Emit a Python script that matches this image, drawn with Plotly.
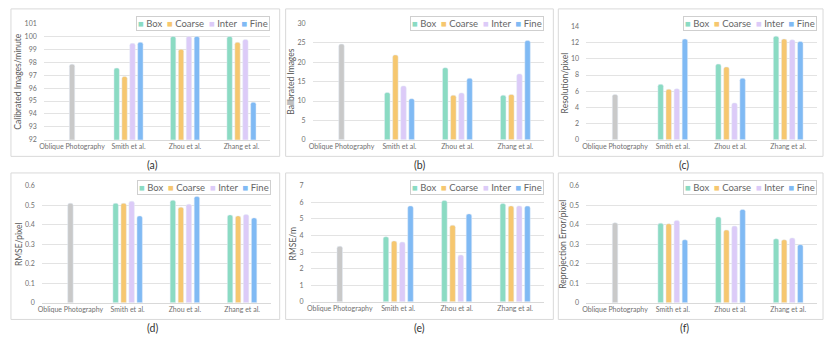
"""Six grouped bar panels: calibration metrics for four methods (Box/Coarse/Inter/Fine)."""

import plotly.graph_objects as go

W, H = 830, 341

CATEGORIES = ["Oblique Photography", "Smith et al.", "Zhou et al.", "Zhang et al."]
METHODS = ["Box", "Coarse", "Inter", "Fine"]
PANEL_LABELS = ["(a)", "(b)", "(c)", "(d)", "(e)", "(f)"]
Y_TITLES = [
    "Calibrated Images/minute", "Ballbrated Images", "Resolution/pixel",
    "RMSE/pixel", "RMSE/m", "Reprojection Error/pixel",
]
Y_RANGES = [(92, 101, 1), (0, 30, 5), (0, 14, 2), (0, 0.6, 0.1), (0, 7, 1), (0, 0.6, 0.1)]

# oblique photography baseline (one bar per panel)
OBLIQUE = [97.85, 24.7, 5.6, 0.51, 3.35, 0.41]

# per panel: rows = Smith, Zhou, Zhang ; cols = Box, Coarse, Inter, Fine
CALIB_PER_MIN = [[97.55, 96.9, 99.47, 99.55], [100.0, 99.0, 100.0, 100.0], [100.0, 99.55, 99.77, 94.9]]
CALIB_IMAGES = [[12.2, 21.9, 13.9, 10.6], [18.6, 11.5, 12.1, 15.9], [11.5, 11.7, 17.0, 25.6]]
RESOLUTION = [[6.85, 6.25, 6.3, 12.45], [9.35, 9.0, 4.55, 7.6], [12.8, 12.45, 12.35, 12.15]]
RMSE_PIXEL = [[0.51, 0.51, 0.52, 0.445], [0.525, 0.49, 0.505, 0.545], [0.45, 0.445, 0.452, 0.435]]
RMSE_M = [[3.92, 3.67, 3.6, 5.78], [6.1, 4.62, 2.82, 5.3], [5.92, 5.78, 5.78, 5.77]]
REPROJ = [[0.408, 0.405, 0.422, 0.323], [0.44, 0.373, 0.393, 0.478], [0.328, 0.323, 0.332, 0.298]]
PANEL_DATA = [CALIB_PER_MIN, CALIB_IMAGES, RESOLUTION, RMSE_PIXEL, RMSE_M, REPROJ]

COLORS = {"Box": "#8bdbc3", "Coarse": "#f6c76f", "Inter": "#dccbf8", "Fine": "#80baf4", "grey": "#c9c9c9"}
FONT = "Lato, 'Noto Sans', sans-serif"

# pixel geometry (left, right, top, bottom) of each panel frame and plot area
FRAMES = [(7, 277, 4, 155), (283, 552, 4, 155), (557, 823, 4, 155),
          (7, 277, 172, 322), (283, 552, 172, 322), (557, 823, 172, 322)]
PLOTS = [(40, 267, 19, 138), (310, 543, 19, 138), (585, 817, 22, 138),
         (38, 268, 185, 305), (308, 543, 185, 304), (585, 817, 185, 305)]
BAR_W = 0.095
OFFSETS = [-0.21, -0.07, 0.07, 0.21]


def px_x(v):
    return v / W


def px_y(v):
    return 1 - v / H


fig = go.Figure()
layout = {}
shapes, annotations = [], []

for i in range(6):
    n = "" if i == 0 else str(i + 1)
    xa, ya = f"x{n}", f"y{n}"
    fig.add_trace(go.Bar(
        x=[CATEGORIES[0]], y=[OBLIQUE[i]], width=BAR_W, offset=-BAR_W / 2,
        marker_color=COLORS["grey"], xaxis=xa, yaxis=ya, showlegend=False,
    ))
    data = PANEL_DATA[i]
    for m, method in enumerate(METHODS):
        fig.add_trace(go.Bar(
            x=CATEGORIES[1:], y=[row[m] for row in data], width=BAR_W,
            offset=OFFSETS[m] - BAR_W / 2, marker_color=COLORS[method],
            name=method, xaxis=xa, yaxis=ya, showlegend=False,
        ))

    l, r, t, b = PLOTS[i]
    lo, hi, step = Y_RANGES[i]
    layout[f"xaxis{n}"] = dict(
        domain=[px_x(l), px_x(r)], anchor=ya, type="category",
        categoryorder="array", categoryarray=CATEGORIES, range=[-0.5, 3.5],
        showgrid=False, showline=True, linecolor="#d9d9d9", linewidth=1,
        tickfont=dict(size=7, color="#707070"), ticks="", fixedrange=True,
    )
    layout[f"yaxis{n}"] = dict(
        domain=[px_y(b), px_y(t)], anchor=xa, range=[lo, hi], dtick=step, tick0=lo,
        showgrid=True, gridcolor="#e3e3e3", gridwidth=1, zeroline=False,
        tickfont=dict(size=7, color="#707070"), ticklabelstandoff=6,
        title=dict(text=Y_TITLES[i], font=dict(size=8.5, color="#595959"), standoff=1),
        fixedrange=True,
    )

    fl, fr, ft, fb = FRAMES[i]
    shapes.append(dict(type="rect", xref="paper", yref="paper",
                       x0=px_x(fl), x1=px_x(fr), y0=px_y(fb), y1=px_y(ft),
                       line=dict(color="#d9d9d9", width=1), fillcolor="rgba(0,0,0,0)"))
    annotations.append(dict(xref="paper", yref="paper", x=px_x((fl + fr) / 2),
                            y=px_y(fb + 9), text=PANEL_LABELS[i], showarrow=False,
                            font=dict(size=10.5, color="#333333"), yanchor="middle"))
    legend_text = "  ".join(
        f"<span style='color:{COLORS[mm]}'>■</span> {mm}" for mm in METHODS
    )
    annotations.append(dict(xref="paper", yref="paper", x=px_x(r), y=px_y(ft + 7),
                            xanchor="right", yanchor="top", text=legend_text,
                            showarrow=False, font=dict(size=9.5, color="#666666"),
                            bordercolor="#cfcfcf", borderwidth=1, borderpad=1,
                            bgcolor="white"))

fig.update_layout(
    **layout, shapes=shapes, annotations=annotations,
    width=W, height=H, margin=dict(l=0, r=0, t=0, b=0),
    paper_bgcolor="white", plot_bgcolor="white", barcornerradius=2,
    font=dict(family=FONT, color="#595959"), showlegend=False,
)

fig.write_html("out.html", config={"displayModeBar": False},
               post_script="document.body.style.margin='0';")
